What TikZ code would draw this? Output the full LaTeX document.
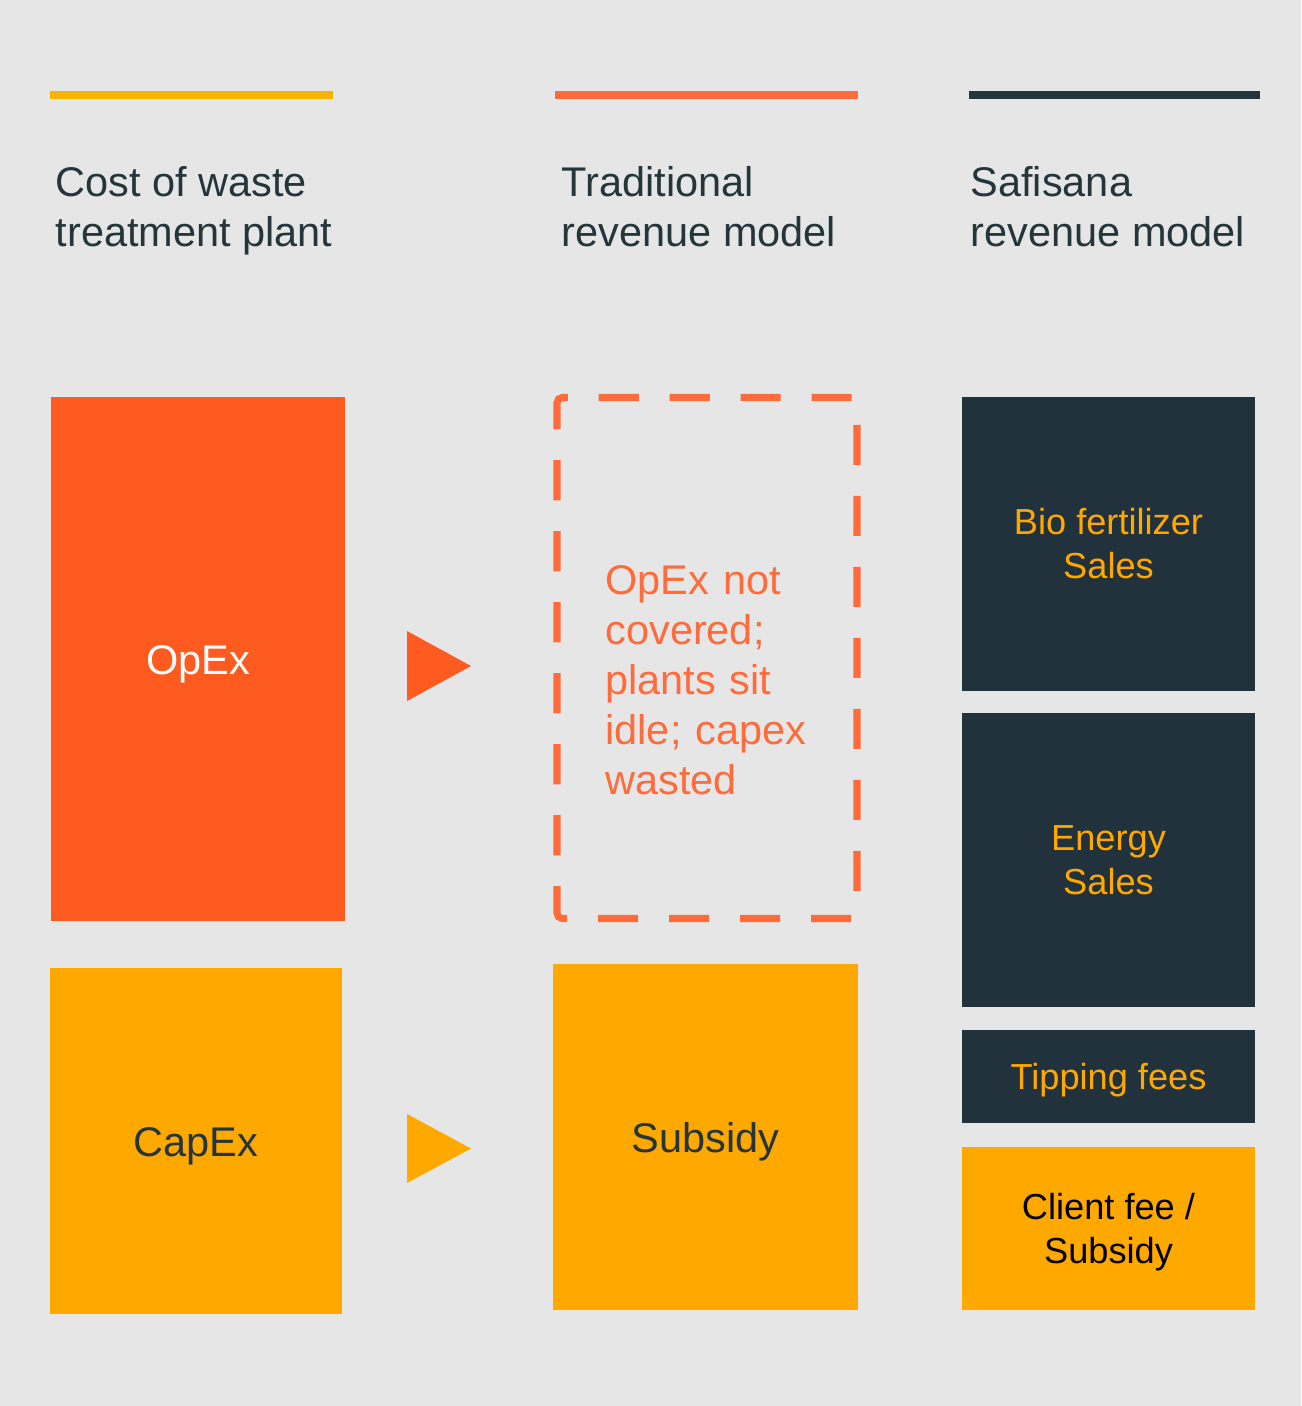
\documentclass[tikz,border=0pt]{standalone}
\usepackage{fontspec}
\setmainfont{Liberation Sans}
\usepackage{xcolor}
\usepackage{tikz}
\usetikzlibrary{positioning, calc}

\definecolor{bgc}{HTML}{E6E6E6}
\definecolor{opexc}{HTML}{FF5A1F}
\definecolor{linec}{HTML}{FF6B3A}
\definecolor{capexc}{HTML}{FFA800}
\definecolor{ylinec}{HTML}{F8B300}
\definecolor{darkc}{HTML}{21323D}
\definecolor{headc}{HTML}{24353B}

\begin{document}
\begin{tikzpicture}[
  head/.style={anchor=north west, inner sep=0pt, align=left, text=headc,
               font=\fontsize{11.8}{14.2}\selectfont},
  bar/.style={line width=2pt},
  cost/.style={rectangle, inner sep=0pt, outer sep=0pt, minimum width=2.94cm,
               text height=0.88em, text depth=0pt,
               font=\fontsize{11.8}{14.2}\selectfont},
  rev/.style={rectangle, inner sep=0pt, outer sep=0pt, minimum width=2.93cm,
              fill=darkc, text=capexc, align=center,
              font=\fontsize{10.3}{12.5}\selectfont},
  gap/.style={rectangle, draw=linec, line width=2pt, outer sep=0pt,
              rounded corners=1.5pt, dash pattern=on 11.4pt off 8.8pt,
              minimum width=3.0cm, minimum height=5.21cm}
]
%% Background
\fill[bgc] (0,0) rectangle (13.01,-14.06);
%% Column bars
\draw[bar, ylinec] (0.50,-0.95) -- (3.33,-0.95);
\draw[bar, linec]  (5.55,-0.95) -- (8.58,-0.95);
\draw[bar, headc]  (9.69,-0.95) -- (12.60,-0.95);
%% Column headings
\node[head] (hcost) at (0.55,-1.66) {Cost of waste\\treatment plant};
\node[head] (htrad) at (5.61,-1.66) {Traditional\\revenue model};
\node[head] (hsafi) at (9.70,-1.66) {Safisana\\revenue model};
%% Cost column
\node[cost, fill=opexc, text=white, minimum height=5.24cm] (opex) at (1.98,-6.59) {OpEx};
\node[cost, fill=capexc, text=headc, minimum width=2.92cm, minimum height=3.46cm] (capex) at (1.96,-11.41) {CapEx};
%% Triangles
\fill[opexc]  (4.07,-6.31) -- (4.71,-6.66) -- (4.07,-7.01) -- cycle;
\fill[capexc] (4.07,-11.14) -- (4.71,-11.485) -- (4.07,-11.83) -- cycle;
%% Traditional column
\node[gap] (trad) at (7.07,-6.58) {};
\node[text=linec, text width=2.05cm, align=left, inner sep=0pt,
      font=\fontsize{11.8}{14.2}\selectfont] (tradtxt) at ([xshift=0.01cm, yshift=-0.22cm]trad.center)
      {OpEx not covered; plants sit idle; capex wasted};
\node[cost, fill=capexc, text=headc, minimum width=3.05cm, minimum height=3.46cm] (subs) at (7.055,-11.37) {Subsidy};
%% Safisana column
\node[rev, minimum height=2.94cm] (bio) at (11.085,-5.44) {Bio fertilizer\\Sales};
\node[rev, minimum height=2.94cm] (energy) at (11.085,-8.60) {Energy\\Sales};
\node[rev, minimum height=0.93cm, text depth=0pt] (tip) at (11.085,-10.765) {Tipping fees};
\node[rev, fill=capexc, text=black, minimum height=1.63cm, text depth=0pt] (client) at (11.085,-12.285) {Client fee /\\Subsidy};
\end{tikzpicture}
\end{document}
